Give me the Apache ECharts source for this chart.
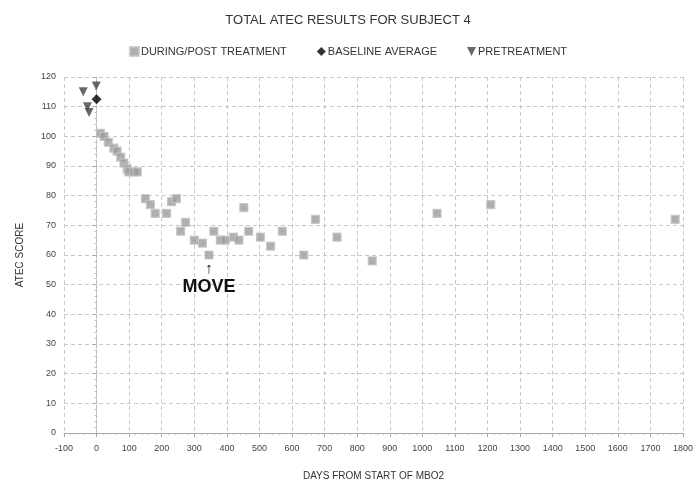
<!DOCTYPE html>
<html>
<head>
<meta charset="utf-8">
<script src="https://cdn.jsdelivr.net/npm/echarts@6/dist/echarts.min.js"></script>
<style>
  html, body { margin: 0; padding: 0; background: #fff; }
  #chart { width: 696px; height: 486px; }
</style>
</head>
<body>
<div id="chart"></div>
<script>
// Days from start of MBO2 and total ATEC score for each assessment
const duringDays = [12, 23, 36, 53, 63, 74, 84, 94, 99, 115, 125,
  150, 165, 180, 215, 230, 245, 258, 273, 300, 325, 345, 360, 380, 395,
  420, 437, 452, 467, 503, 534, 570, 636, 672, 738, 846, 1045, 1210, 1776];
const duringScores = [101, 100, 98, 96, 95, 93, 91, 89, 88, 88, 88,
  79, 77, 74, 74, 78, 79, 68, 71, 65, 64, 60, 68, 65, 65,
  66, 65, 76, 68, 66, 63, 68, 60, 72, 66, 58, 74, 77, 72];

const pretreatDays = [-41, -28, -23, -1];
const pretreatScores = [115, 110, 108, 117];

const baselineDays = [0];
const baselineScores = [112.5];

const xTicks = { min: -100, max: 1800, step: 100 };
const yTicks = { min: 0, max: 120, step: 10 };

// Where the treatment move happened
const moveDay = 345;
const moveScore = 60;

const pairs = (xs, ys) => xs.map((x, i) => [x, ys[i]]);

const FONT = 'Liberation Sans';
const chart = echarts.init(document.getElementById('chart'), null, { renderer: 'canvas' });

const dashed = { color: '#c8c8c8', type: [4, 3], width: 1 };

chart.setOption({
  animation: false,
  textStyle: { fontFamily: FONT },
  title: {
    text: 'TOTAL ATEC RESULTS FOR SUBJECT 4',
    left: 'center',
    top: 9,
    textStyle: { fontFamily: FONT, fontSize: 13, fontWeight: 'normal', color: '#333' }
  },
  legend: {
    top: 41,
    left: 'center',
    itemWidth: 9,
    itemHeight: 9,
    itemGap: 30,
    textStyle: { fontFamily: FONT, fontSize: 11, color: '#333', padding: [0, 0, 0, -3] },
    data: [
      { name: 'DURING/POST TREATMENT', icon: 'rect' },
      { name: 'BASELINE AVERAGE', icon: 'diamond' },
      { name: 'PRETREATMENT', icon: 'path://M0,0 L10,0 L5,10 Z' }
    ]
  },
  grid: { left: 64, right: 11, top: 77, bottom: 49, containLabel: false },
  xAxis: {
    type: 'value',
    min: xTicks.min,
    max: xTicks.max,
    interval: xTicks.step,
    name: 'DAYS FROM START OF MBO2',
    nameLocation: 'middle',
    nameGap: 38,
    nameTextStyle: { fontFamily: FONT, fontSize: 10, color: '#333' },
    axisLine: { lineStyle: { color: '#aaa' } },
    axisTick: { show: true, length: 4, lineStyle: { color: '#aaa' } },
    minorTick: { show: true, splitNumber: 5, length: 2, lineStyle: { color: '#bbb' } },
    axisLabel: { fontFamily: FONT, fontSize: 9, color: '#444', margin: 11, formatter: v => String(v) },
    splitLine: { show: true, lineStyle: dashed }
  },
  yAxis: {
    type: 'value',
    min: yTicks.min,
    max: yTicks.max,
    interval: yTicks.step,
    name: 'ATEC SCORE',
    nameLocation: 'middle',
    nameGap: 39,
    nameTextStyle: { fontFamily: FONT, fontSize: 10, color: '#333' },
    axisLine: { show: true, lineStyle: { color: '#bbb', type: [3, 2] } },
    axisTick: { show: true, length: 4, lineStyle: { color: '#aaa' } },
    minorTick: { show: true, splitNumber: 5, length: 2, lineStyle: { color: '#bbb' } },
    axisLabel: { fontFamily: FONT, fontSize: 9, color: '#444', margin: 8 },
    splitLine: { show: true, lineStyle: dashed }
  },
  series: [
    {
      name: 'DURING/POST TREATMENT',
      type: 'scatter',
      symbol: 'rect',
      symbolSize: 8,
      itemStyle: { color: '#9b9b9b', borderColor: '#c4c4c4', borderWidth: 1.2 },
      data: pairs(duringDays, duringScores),
      markPoint: {
        symbol: 'rect',
        symbolSize: 0,
        silent: true,
        data: [{ coord: [moveDay, moveScore] }],
        label: {
          show: true,
          position: 'bottom',
          distance: 6,
          formatter: '{a|↑}\n{b|MOVE}',
          rich: {
            a: { fontFamily: FONT, fontSize: 15, fontWeight: 'bold', color: '#111', lineHeight: 15, align: 'center' },
            b: { fontFamily: FONT, fontSize: 18, fontWeight: 'bold', color: '#111', lineHeight: 22, align: 'center' }
          }
        }
      },
      z: 2
    },
    {
      name: 'BASELINE AVERAGE',
      type: 'scatter',
      symbol: 'diamond',
      symbolSize: 10,
      itemStyle: { color: '#000' },
      data: pairs(baselineDays, baselineScores),
      z: 4
    },
    {
      name: 'PRETREATMENT',
      type: 'scatter',
      symbol: 'path://M0,0 L10,0 L5,10 Z',
      symbolSize: 9,
      itemStyle: { color: '#444' },
      data: pairs(pretreatDays, pretreatScores),
      z: 3
    }
  ]
});
</script>
</body>
</html>
